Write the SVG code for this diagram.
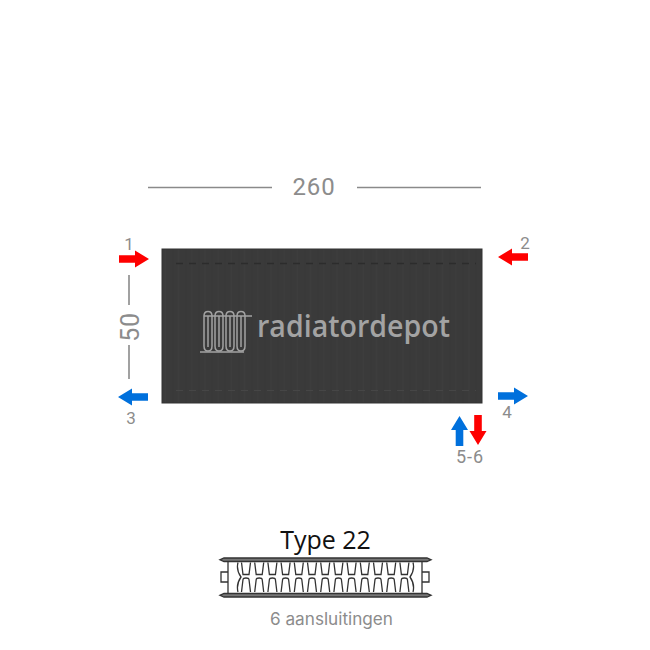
<svg xmlns="http://www.w3.org/2000/svg" xmlns:xlink="http://www.w3.org/1999/xlink" width="650" height="650" viewBox="0 0 650 650">
<style>
.dim{fill:#8c8c8c;font-family:Roboto,"Liberation Sans",sans-serif}
.dl{stroke:#8a8a8a;stroke-width:1.6;fill:none}
.red{fill:#fe0000}
.blue{fill:#0070dc}
.logo{stroke:#a3a3a3;stroke-width:1.5;fill:none}
.sec{stroke:#333;fill:none;stroke-width:1.3}
</style>
<defs>
<path id="arr" d="M0-3.800H16V-8.500L30 0L16 8.500V3.800H0Z"/>
<pattern id="stripes" width="13.200" height="10" patternUnits="userSpaceOnUse" x="166">
<rect width="13.200" height="10" fill="#3a3a3a"/>
<rect x="6" width="1.200" height="10" fill="#383838"/>
<rect x="12" width="1.200" height="10" fill="#3d3d3d"/>
</pattern>
<g id="fin">
<path d="M-4.500 562.500L-3 574.500H3L4.500 562.500"/>
<path d="M-4.500 592L-3 579.500Q-2.800 578 0 578Q2.800 578 3 579.500L4.500 592"/>
</g>
<path id="tube" d="M0 346V316Q0 311.500 4 311.500Q8 311.500 8 316V346Q8 351 4 351Q0 351 0 346ZM4 316V347"/>
</defs>
<g id="dimensions" fill="none">
<path class="dl" d="M148 187.500H272M357 187.500H481M129 275V305M129 345V379"/>
<text class="dim" x="314" y="195" font-size="24" letter-spacing="0.800" text-anchor="middle">260</text>
<text class="dim" font-size="25" letter-spacing="0.800" text-anchor="middle" transform="translate(138.500 327) rotate(-90)">50</text>
</g>
<g id="radiator">
<rect x="162" y="249" width="320" height="154" fill="url(#stripes)"/>
<rect x="162" y="249" width="320" height="154" fill="none" stroke="#333" stroke-width="1"/>
<path d="M176 263.500H476" stroke="#2c2c2c" stroke-width="1.500" stroke-dasharray="7 6" fill="none"/>
<path d="M176 390.500H476" stroke="#464646" stroke-width="1" stroke-dasharray="7 6" fill="none"/>
</g>
<g id="logo">
<use href="#tube" class="logo" x="204"/>
<use href="#tube" class="logo" x="215"/>
<use href="#tube" class="logo" x="226"/>
<use href="#tube" class="logo" x="237"/>
<path class="logo" d="M204 316H252M200 352H244" stroke-width="1.800"/>
<text x="257" y="337" font-size="31" font-weight="600" fill="#a3a3a3" font-family="'Open Sans',Lato,sans-serif" textLength="193" lengthAdjust="spacingAndGlyphs">radiatordepot</text>
</g>
<g id="arrow-1"><use href="#arr" class="red" transform="translate(119 259)"/><text class="dim" x="129" y="250" font-size="17" text-anchor="middle">1</text></g>
<g id="arrow-2"><use href="#arr" class="red" transform="translate(528 257) scale(-1 1)"/><text class="dim" x="525" y="249" font-size="17" text-anchor="middle">2</text></g>
<g id="arrow-3"><use href="#arr" class="blue" transform="translate(148 397) scale(-1 1)"/><text class="dim" x="131" y="424" font-size="17" text-anchor="middle">3</text></g>
<g id="arrow-4"><use href="#arr" class="blue" transform="translate(498 396)"/><text class="dim" x="507" y="418" font-size="17" text-anchor="middle">4</text></g>
<g id="arrow-5-6">
<use href="#arr" class="blue" transform="translate(459.500 446) rotate(-90)"/>
<use href="#arr" class="red" transform="translate(478 415) rotate(90)"/>
<text class="dim" x="470" y="463" font-size="18" letter-spacing="1" text-anchor="middle">5-6</text>
</g>
<g id="type-22">
<text x="325.500" y="549" font-size="25" text-anchor="middle" fill="#111" font-family="'Open Sans','Liberation Sans',sans-serif">Type 22</text>
<g class="sec">
<path d="M224 558H427L431 559.800L427 561.500H224L220 559.800Z" fill="#777"/>
<path d="M224 593.500H427L431 595.300L427 597H224L220 595.300Z" fill="#777"/>
<path d="M228 561.500V593M422 561.500V593"/>
<path d="M228 572H221V582H228M422 572H429V582H422"/>
<path d="M238 562.500Q236 570 241 577Q236 584 238 592M413 562.500Q415 570 410 577Q415 584 413 592"/>
<use href="#fin" x="246"/><use href="#fin" x="259.200"/><use href="#fin" x="272.400"/><use href="#fin" x="285.600"/><use href="#fin" x="298.800"/><use href="#fin" x="312"/><use href="#fin" x="325.200"/><use href="#fin" x="338.400"/><use href="#fin" x="351.600"/><use href="#fin" x="364.800"/><use href="#fin" x="378"/><use href="#fin" x="391.200"/><use href="#fin" x="404.400"/>
</g>
<text x="331.500" y="625" font-size="17" fill="#8c8c8c" text-anchor="middle" textLength="123" lengthAdjust="spacingAndGlyphs" font-family="Inter,Roboto,sans-serif">6 aansluitingen</text>
</g>
</svg>
